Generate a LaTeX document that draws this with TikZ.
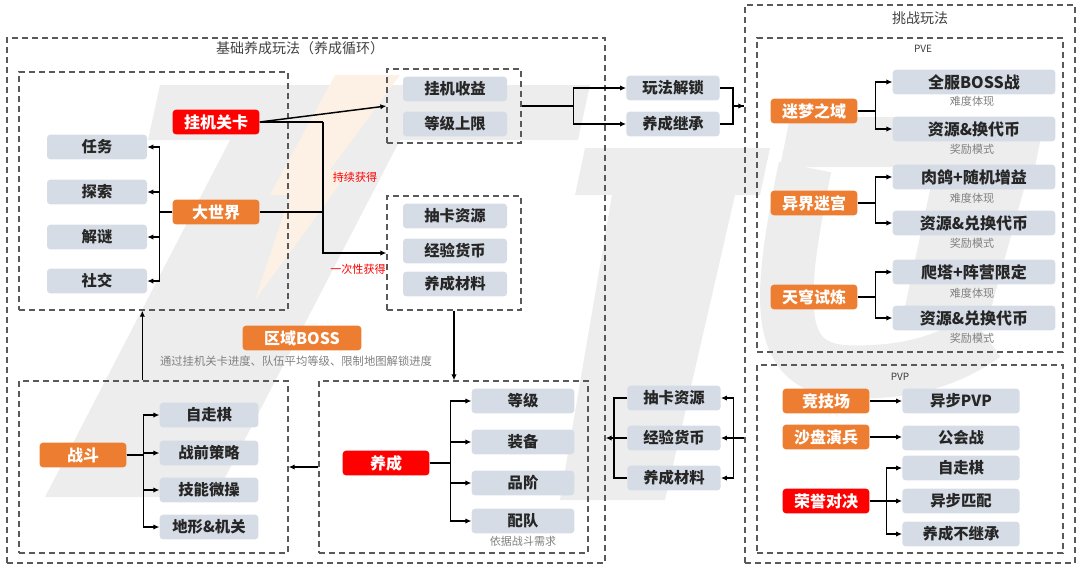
\documentclass[tikz,border=0pt]{standalone}
\usepackage{fontspec}
\setmainfont{Noto Sans CJK SC}
\usetikzlibrary{arrows.meta,calc}
\definecolor{bgray}{HTML}{D6DCE5}
\definecolor{orng}{HTML}{ED7D31}
\definecolor{redb}{HTML}{FF0000}
\definecolor{dgray}{HTML}{595959}
\definecolor{tgray}{HTML}{808080}
\definecolor{wm}{HTML}{EDEDED}
\definecolor{wmo}{HTML}{FDF1E6}
\begin{document}
\begin{tikzpicture}[x=0.75pt,y=-0.75pt,
  gb/.style={fill=bgray, rounded corners=2.5pt, inner sep=0pt, minimum height=18.5pt, text=black!85, font=\fontsize{11.5}{13}\selectfont\bfseries},
  ob/.style={fill=orng, rounded corners=2.5pt, inner sep=0pt, minimum height=18.5pt, minimum width=65pt, text=white, font=\fontsize{12}{14}\selectfont\bfseries},
  rb/.style={ob, fill=redb},
  db/.style={draw=dgray, dash pattern=on 4.5pt off 3pt, line width=1pt, inner sep=0pt, rectangle},
  note/.style={text=tgray, font=\fontsize{8.3}{10}\selectfont, inner sep=0pt},
  rnote/.style={text=redb, font=\fontsize{8.3}{10}\selectfont, inner sep=0pt},
  ttl/.style={text=black!75, font=\fontsize{10.5}{12}\selectfont, inner sep=0pt},
  ln/.style={line width=1.1pt, draw=black},
  arr/.style={ln, -{Latex[length=4.5pt,width=4pt]}}
]
\useasboundingbox (0,0) rectangle (1080,569);
% watermark
\fill[wm] (160,85) -- (590,85) -- (578,140) -- (148,140) -- cycle;
\fill[wm] (230,140) -- (400,140) -- (215,497) -- (45,497) -- cycle;
\fill[wm] (585,148) -- (770,148) -- (760,195) -- (575,195) -- cycle;
\fill[wm] (612,195) -- (735,195) -- (665,500) -- (560,500) -- cycle;
\fill[wm] (790,117) -- (1045,117) -- (1035,167) -- (780,167) -- cycle;
\fill[wm] (935,167) -- (1030,167) -- (985,330) -- (900,330) -- cycle;
\draw[wm, line width=40pt] (805,167) .. controls (778,300) and (772,370) .. (850,372) .. controls (910,373) and (950,360) .. (985,335);
\fill[wmo] (335,75) -- (400,75) -- (330,170) -- (350,170) -- (255,300) -- (290,195) -- (270,195) -- cycle;

% dashed boxes
\node[db, minimum width=448.5pt, minimum height=393.75pt] (outerL) at (306,300.5) {};
\node[db, minimum width=201.75pt, minimum height=178.5pt] (worldbox) at (153.5,191) {};
\node[db, minimum width=100.5pt, minimum height=55.5pt] (box2) at (454,106) {};
\node[db, minimum width=100.5pt, minimum height=85.5pt] (box3) at (454,253) {};
\node[db, minimum width=201.75pt, minimum height=129pt] (battlebox) at (153.5,467) {};
\node[db, minimum width=201.75pt, minimum height=129pt] (cultbox) at (453.5,467) {};
\node[db, minimum width=247.5pt, minimum height=418.5pt] (outerR) at (910,284) {};
\node[db, minimum width=229.5pt, minimum height=235.5pt] (pvebox) at (910,195) {};
\node[db, minimum width=229.5pt, minimum height=141pt] (pvpbox) at (910,459) {};

% titles
\node[ttl] (t1) at (300,48) {基础养成玩法（养成循环）};
\node[ttl] (t2) at (920,18) {挑战玩法};
\node[ttl, font=\fontsize{7.5}{8}\selectfont] (t3) at (923,49) {PVE};
\node[ttl, font=\fontsize{7.5}{8}\selectfont] (t4) at (900,377) {PVP};

% world
\node[rb] (guaji) at (216,122) {挂机关卡};
\node[ob] (dashijie) at (216,212) {大世界};
\node[gb, minimum width=75pt] (renwu) at (97,147) {任务};
\node[gb, minimum width=75pt] (tansuo) at (97,192) {探索};
\node[gb, minimum width=75pt] (jiemi) at (97,237) {解谜};
\node[gb, minimum width=75pt] (shejiao) at (97,281) {社交};

% box2 / box3
\node[gb, minimum width=78pt] (gjsy) at (455,89) {挂机收益};
\node[gb, minimum width=78pt] (djsx) at (455,124) {等级上限};
\node[gb, minimum width=78pt] (chouka1) at (455,216) {抽卡资源};
\node[gb, minimum width=78pt] (jingyan1) at (455,251) {经验货币};
\node[gb, minimum width=78pt] (cailiao1) at (455,284) {养成材料};
\node[rnote] (n1) at (355,177) {持续获得};
\node[rnote] (n2) at (358,269) {一次性获得};

\node[gb, minimum width=70pt] (wanfa) at (673,88) {玩法解锁};
\node[gb, minimum width=70pt] (jicheng) at (673,124) {养成继承};

% PVE
\node[ob] (mimeng) at (814,111) {迷梦之域};
\node[ob] (yijie) at (814,203) {异界迷宫};
\node[ob] (tianqiong) at (814,297) {天穹试炼};
\node[gb, minimum width=122pt, font=\fontsize{12}{14}\selectfont\bfseries] (quanfu) at (974,82) {全服BOSS战};
\node[gb, minimum width=122pt, font=\fontsize{12}{14}\selectfont\bfseries] (zy1) at (974,129) {资源\&换代币};
\node[gb, minimum width=122pt, font=\fontsize{12}{14}\selectfont\bfseries] (rouge) at (974,177) {肉鸽+随机增益};
\node[gb, minimum width=122pt, font=\fontsize{12}{14}\selectfont\bfseries] (zy2) at (974,223) {资源\&兑换代币};
\node[gb, minimum width=122pt, font=\fontsize{12}{14}\selectfont\bfseries] (pata) at (974,272) {爬塔+阵营限定};
\node[gb, minimum width=122pt, font=\fontsize{12}{14}\selectfont\bfseries] (zy3) at (974,318) {资源\&兑换代币};
\node[note] (nd1) at (972,101) {难度体现};
\node[note] (jl1) at (972,149) {奖励模式};
\node[note] (nd2) at (972,198) {难度体现};
\node[note] (jl2) at (972,243) {奖励模式};
\node[note] (nd3) at (972,293) {难度体现};
\node[note] (jl3) at (972,338) {奖励模式};

% PVP
\node[ob] (jingji) at (826,401) {竞技场};
\node[ob] (shapan) at (826,437) {沙盘演兵};
\node[rb] (rongyu) at (826,501) {荣誉对决};
\node[gb, minimum width=88pt] (ybpvp) at (961,401) {异步PVP};
\node[gb, minimum width=88pt] (gonghui) at (961,438) {公会战};
\node[gb, minimum width=88pt] (zzq2) at (961,468) {自走棋};
\node[gb, minimum width=88pt] (ybpp) at (961,501) {异步匹配};
\node[gb, minimum width=88pt] (bjc) at (961,534) {养成不继承};

% middle bottom
\node[gb, minimum width=70pt] (chouka2) at (674,398) {抽卡资源};
\node[gb, minimum width=70pt] (jingyan2) at (674,438) {经验货币};
\node[gb, minimum width=70pt] (cailiao2) at (674,478) {养成材料};

% battle
\node[ob] (zhandou) at (83,455) {战斗};
\node[gb, minimum width=74pt] (zzq1) at (209,415) {自走棋};
\node[gb, minimum width=74pt] (celue) at (209,453) {战前策略};
\node[gb, minimum width=74pt] (weicao) at (209,490) {技能微操};
\node[gb, minimum width=74pt] (dixing) at (209,527) {地形\&机关};

% cultivation
\node[rb] (yangc) at (386,463) {养成};
\node[gb, minimum width=77pt] (dengji) at (523,401) {等级};
\node[gb, minimum width=77pt] (zhuangbei) at (523,442) {装备};
\node[gb, minimum width=77pt] (pinjie) at (523,483) {品阶};
\node[gb, minimum width=77pt] (peidui) at (523,521) {配队};
\node[note] (yiju) at (523,541) {依据战斗需求};

% boss
\node[ob, minimum width=89pt] (boss) at (302,338) {区域BOSS};
\node[note, font=\fontsize{8.5}{10}\selectfont] (bossn) at (296,361) {通过挂机关卡进度、队伍平均等级、限制地图解锁进度};

% connectors: world
\coordinate (jx) at (323,0);
\draw[arr] (guaji.east) -- (box2.west);
\draw[ln] (guaji.east) -- (guaji.east -| jx);
\draw[arr] (guaji.east -| jx) |- (box3.west);
\draw[ln] (dashijie.east) -- (dashijie.east -| jx);
\draw[arr] (dashijie.west) -- ++(-13,0) |- (renwu.east);
\draw[arr] (dashijie.west) -- ++(-13,0) |- (tansuo.east);
\draw[arr] (dashijie.west) -- ++(-13,0) |- (jiemi.east);
\draw[arr] (dashijie.west) -- ++(-13,0) |- (shejiao.east);

% box2 -> unlock
\draw[arr] (box2.east) -- ++(52,0) |- (wanfa.west);
\draw[arr] (box2.east) -- ++(52,0) |- (jicheng.west);
\draw[ln] (jicheng.east) -- ++(13,0) |- (outerR.west |- box2.east);
\draw[arr] (wanfa.east) -- ++(13,0) |- (outerR.west |- box2.east);

% box3 -> cultivation
\draw[arr] (box3.south) -- (box3.south |- cultbox.north);
% battle -> world
\draw[arr] ($(battlebox.north west)+(124,0)$) -- ($(worldbox.south west)+(124,0)$);
% cultivation -> battle
\draw[arr] (cultbox.west) -- (battlebox.east);

% PVE brackets
\draw[arr] (mimeng.east) -- ++(18,0) |- (quanfu.west);
\draw[arr] (mimeng.east) -- ++(18,0) |- (zy1.west);
\draw[arr] (yijie.east) -- ++(18,0) |- (rouge.west);
\draw[arr] (yijie.east) -- ++(18,0) |- (zy2.west);
\draw[arr] (tianqiong.east) -- ++(18,0) |- (pata.west);
\draw[arr] (tianqiong.east) -- ++(18,0) |- (zy3.west);

% PVP
\draw[arr] (jingji.east) -- (jingji.east -| ybpvp.west);
\draw[arr] (shapan.east) -- (shapan.east -| gonghui.west);
\draw[arr] (rongyu.east) -- ++(17,0) |- (zzq2.west);
\draw[arr] (rongyu.east) -- ++(17,0) |- (ybpp.west);
\draw[arr] (rongyu.east) -- ++(17,0) |- (bjc.west);

% middle bottom
\draw[arr] (outerR.west |- jingyan2.east) -- ++(-11,0) |- (chouka2.east);
\draw[arr] (outerR.west |- jingyan2.east) -- ++(-11,0) |- (jingyan2.east);
\draw[arr] (outerR.west |- jingyan2.east) -- ++(-11,0) |- (cailiao2.east);
\draw[ln] (chouka2.west) -- ++(-13,0) |- (cailiao2.west);
\draw[arr] (jingyan2.west) -- ++(-13,0) -- (outerL.east |- jingyan2.west);

% battle brackets
\draw[arr] (zhandou.east) -- ++(17,0) |- (zzq1.west);
\draw[arr] (zhandou.east) -- ++(17,0) |- (celue.west);
\draw[arr] (zhandou.east) -- ++(17,0) |- (weicao.west);
\draw[arr] (zhandou.east) -- ++(17,0) |- (dixing.west);

% cultivation brackets
\draw[arr] (yangc.east) -- ++(21,0) |- (dengji.west);
\draw[arr] (yangc.east) -- ++(21,0) |- (zhuangbei.west);
\draw[arr] (yangc.east) -- ++(21,0) |- (pinjie.west);
\draw[arr] (yangc.east) -- ++(21,0) |- (peidui.west);
\end{tikzpicture}
\end{document}
